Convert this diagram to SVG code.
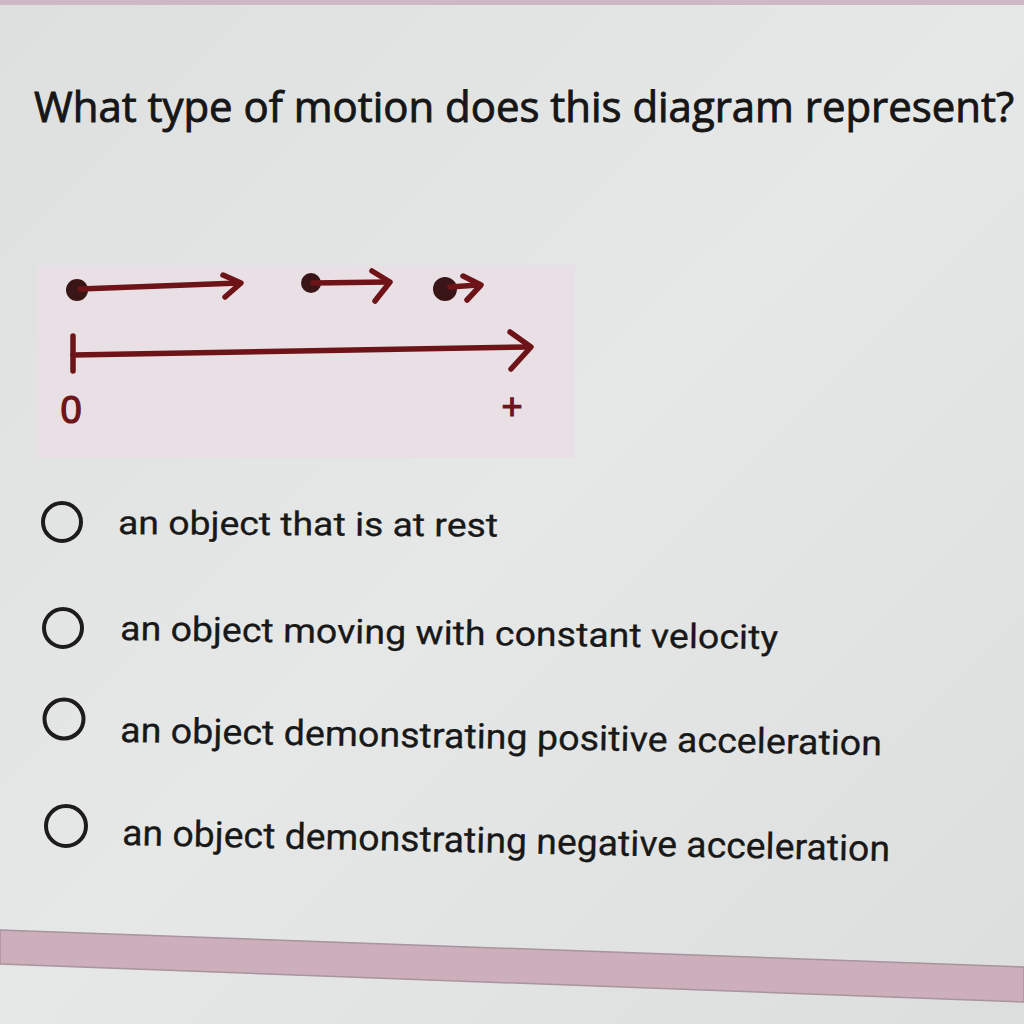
<svg xmlns="http://www.w3.org/2000/svg" width="1024" height="1024" viewBox="0 0 1024 1024">
<defs>
<linearGradient id="bg" x1="0" y1="0" x2="1" y2="1">
<stop offset="0" stop-color="#dedfdf"/>
<stop offset="0.5" stop-color="#e6e8e8"/>
<stop offset="1" stop-color="#dcdede"/>
</linearGradient>
<style>
.q{font-family:"Open Sans","Noto Sans",sans-serif;fill:#161616;stroke:#161616;stroke-width:0.9}
.opt{font-family:"Roboto","Noto Sans",sans-serif;font-weight:400;fill:#181818;stroke:#181818;stroke-width:0.3}
.radio{fill:none;stroke:#1c1c1c;stroke-width:4}
.ink{stroke:#6e1418;stroke-width:5.5;fill:none;stroke-linecap:round;stroke-linejoin:round}
.dot{fill:#3a1517}
.lbl{font-family:"Liberation Sans",sans-serif;fill:#6e1418;stroke:#6e1418;stroke-width:1.2}
</style>
</defs>
<rect width="1024" height="1024" fill="url(#bg)"/>
<rect x="0" y="0" width="1024" height="5" fill="#cdb9c3"/>
<text class="q" x="34" y="122" font-size="42" textLength="980" lengthAdjust="spacingAndGlyphs">What type of motion does this diagram represent?</text>
<rect x="37" y="265" width="538" height="193" fill="#e8e0e4"/>
<g id="motion-diagram">
<circle class="dot" cx="77" cy="290" r="11"/>
<path class="ink" d="M80 289 L239 283"/>
<path class="ink" d="M223 275 L241 283 L225 297"/>
<circle class="dot" cx="311" cy="283" r="10"/>
<path class="ink" d="M313 283 L388 282"/>
<path class="ink" d="M372 271 L390 282 L375 301"/>
<circle class="dot" cx="445" cy="289" r="12"/>
<path class="ink" d="M450 287 L478 285"/>
<path class="ink" d="M463 276 L481 285 L467 300"/>
<path class="ink" d="M73 336 L73 371"/>
<path class="ink" d="M73 355 L528 347"/>
<path class="ink" d="M510 332 L531 347 L511 369"/>
<text class="lbl" x="71" y="423" font-size="38" text-anchor="middle">0</text>
<text class="lbl" x="512" y="419" font-size="36" text-anchor="middle">+</text>
</g>
<g id="option1">
<circle class="radio" cx="62" cy="522" r="19"/>
<text class="opt" x="118" y="534" font-size="33" textLength="380" lengthAdjust="spacingAndGlyphs" transform="rotate(0.4 118 534)">an object that is at rest</text>
</g>
<g id="option2">
<circle class="radio" cx="63" cy="628" r="19"/>
<text class="opt" x="120" y="640" font-size="34" textLength="658" lengthAdjust="spacingAndGlyphs" transform="rotate(0.8 120 640)">an object moving with constant velocity</text>
</g>
<g id="option3">
<circle class="radio" cx="64" cy="719" r="19.5"/>
<text class="opt" x="120" y="742" font-size="35" textLength="762" lengthAdjust="spacingAndGlyphs" transform="rotate(1.0 120 742)">an object demonstrating positive acceleration</text>
</g>
<g id="option4">
<circle class="radio" cx="66" cy="826" r="20"/>
<text class="opt" x="122" y="845" font-size="36" textLength="768" lengthAdjust="spacingAndGlyphs" transform="rotate(1.2 122 845)">an object demonstrating negative acceleration</text>
</g>
<polygon points="0,930 1024,967 1024,1002 0,964" fill="#cdaebb" stroke="#a8949c" stroke-width="1.5"/>
</svg>
